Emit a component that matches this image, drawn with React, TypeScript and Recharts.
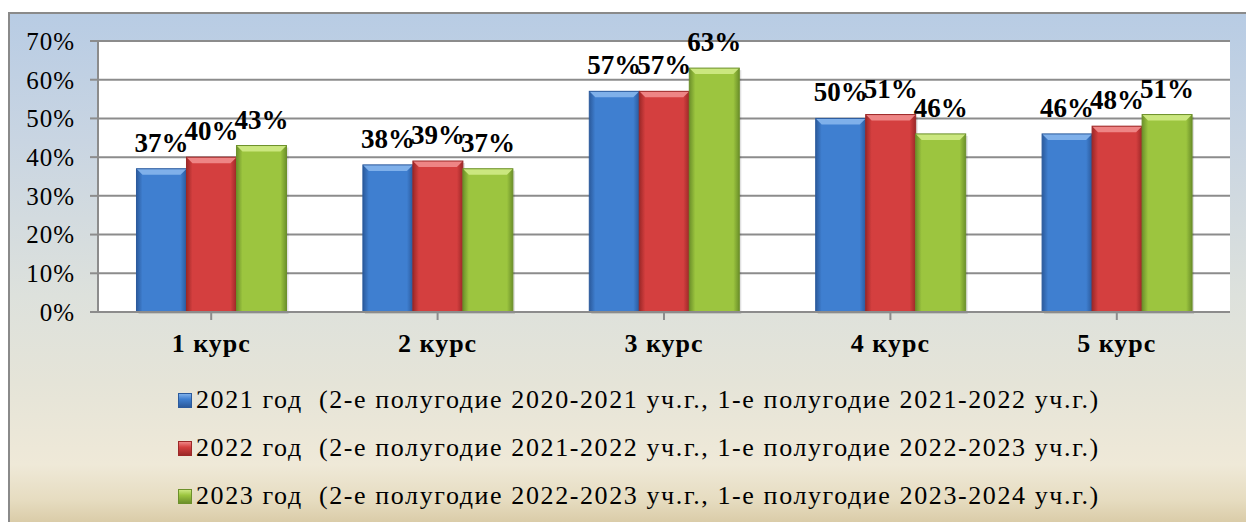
import { BarChart, Bar, XAxis, YAxis, CartesianGrid, Legend, LabelList } from 'recharts';

const courses = ['1 курс', '2 курс', '3 курс', '4 курс', '5 курс'];
const y2021 = [37, 38, 57, 50, 46];
const y2022 = [40, 39, 57, 51, 48];
const y2023 = [43, 37, 63, 46, 51];
const yTicks = [0, 10, 20, 30, 40, 50, 60, 70];

const seriesNames = [
  '2021 год  (2-е полугодие 2020-2021 уч.г., 1-е полугодие 2021-2022 уч.г.)',
  '2022 год  (2-е полугодие 2021-2022 уч.г., 1-е полугодие 2022-2023 уч.г.)',
  '2023 год  (2-е полугодие 2022-2023 уч.г., 1-е полугодие 2023-2024 уч.г.)',
];

const data = courses.map((name, i) => ({
  name,
  s2021: y2021[i],
  s2022: y2022[i],
  s2023: y2023[i],
}));

const PALETTE = [
  { id: 'blue', main: '#3f7fd0', light: '#7fb0ea', dark: '#2b5a9c' },
  { id: 'red', main: '#d43f3f', light: '#ee8585', dark: '#9c2828' },
  { id: 'green', main: '#9cc53f', light: '#cbe77f', dark: '#6c902a' },
];

const SERIF = 'Liberation Serif';

const makeShape = (c: typeof PALETTE[number]) => (props: any) => {
  const { x, y, width, height } = props;
  if (!height || height <= 0) return null;
  const b = Math.min(6, width / 4);
  return (
    <g>
      <rect x={x + 2} y={y + 2} width={width} height={height} fill="#000" fillOpacity={0.12} />
      <rect x={x} y={y} width={width} height={height} fill={`url(#grad-${c.id})`} />
      <polygon
        points={`${x},${y} ${x + width},${y} ${x + width - b},${y + b} ${x + b},${y + b}`}
        fill={c.light}
      />
      <rect x={x} y={y} width={width} height={height} fill="none" stroke={c.dark} strokeWidth={1} />
    </g>
  );
};

const LegendBox = () => (
  <div style={{ height: 148, paddingLeft: 168, fontFamily: SERIF, fontSize: 26, letterSpacing: 1.6, color: '#000' }}>
    {seriesNames.map((n, i) => (
      <div key={n} style={{ height: 48, lineHeight: '48px', display: 'flex', alignItems: 'center', whiteSpace: 'pre' }}>
        <span
          style={{
            display: 'inline-block',
            width: 14,
            height: 15,
            marginRight: 4,
            boxSizing: 'border-box',
            border: `1px solid ${PALETTE[i].dark}`,
            background: `linear-gradient(to bottom, ${PALETTE[i].light}, ${PALETTE[i].main} 40%, ${PALETTE[i].dark})`,
          }}
        />
        {n}
      </div>
    ))}
  </div>
);

const App = () => {
  return (
    <div>
      <style>{`body{margin:0;overflow:hidden;}`}</style>
      <div
        style={{
          position: 'absolute',
          left: 8,
          top: 12,
          width: 1240,
          height: 512,
          borderLeft: '2px solid #8a8a8a',
          borderTop: '2px solid #8a8a8a',
          background:
            'linear-gradient(to bottom, #b8cce4 0%, #c9d5e2 25%, #dde1dc 55%, #e5e4d8 72%, #efe9d8 88%, #e6dcc0 95%, #d8c9a4 100%)',
        }}
      >
        <BarChart
          width={1238}
          height={510}
          data={data}
          margin={{ top: 27, right: 18, left: 0, bottom: 0 }}
          barCategoryGap="17%"
          barGap={0}
        >
          <defs>
            {PALETTE.map((c) => (
              <linearGradient key={c.id} id={`grad-${c.id}`} x1="0" y1="0" x2="1" y2="0">
                <stop offset="0%" stopColor={c.dark} />
                <stop offset="12%" stopColor={c.main} />
                <stop offset="88%" stopColor={c.main} />
                <stop offset="100%" stopColor={c.dark} />
              </linearGradient>
            ))}
          </defs>
          <CartesianGrid vertical={false} stroke="#8c8c8c" strokeWidth={2} fill="#ffffff" fillOpacity={1} />
          <XAxis
            dataKey="name"
            height={64}
            axisLine={{ stroke: '#8c8c8c', strokeWidth: 2 }}
            tickLine={{ stroke: '#8c8c8c', strokeWidth: 2 }}
            tickSize={8}
            tickMargin={14}
            interval={0}
            tick={{ fill: '#000', fontFamily: SERIF, fontSize: 26, fontWeight: 'bold', letterSpacing: 1 }}
          />
          <YAxis
            width={88}
            domain={[0, 70]}
            ticks={yTicks}
            tickFormatter={(v) => `${v}%`}
            axisLine={{ stroke: '#8c8c8c', strokeWidth: 2 }}
            tickLine={{ stroke: '#8c8c8c', strokeWidth: 2 }}
            tickSize={8}
            tickMargin={15}
            tick={{ fill: '#000', fontFamily: SERIF, fontSize: 25, letterSpacing: 1 }}
          />
          <Legend verticalAlign="bottom" align="left" content={() => <LegendBox />} wrapperStyle={{ left: 0, width: 1238 }} />
          {(['s2021', 's2022', 's2023'] as const).map((k, i) => (
            <Bar key={k} dataKey={k} name={seriesNames[i]} fill={PALETTE[i].main} shape={makeShape(PALETTE[i])} isAnimationActive={false}>
              <LabelList
                dataKey={k}
                position="top"
                offset={17}
                formatter={(v: any) => `${v}%`}
                style={{ fill: '#000', fontFamily: SERIF, fontSize: 27, fontWeight: 'bold' }}
              />
            </Bar>
          ))}
        </BarChart>
      </div>
    </div>
  );
};

export default App;
